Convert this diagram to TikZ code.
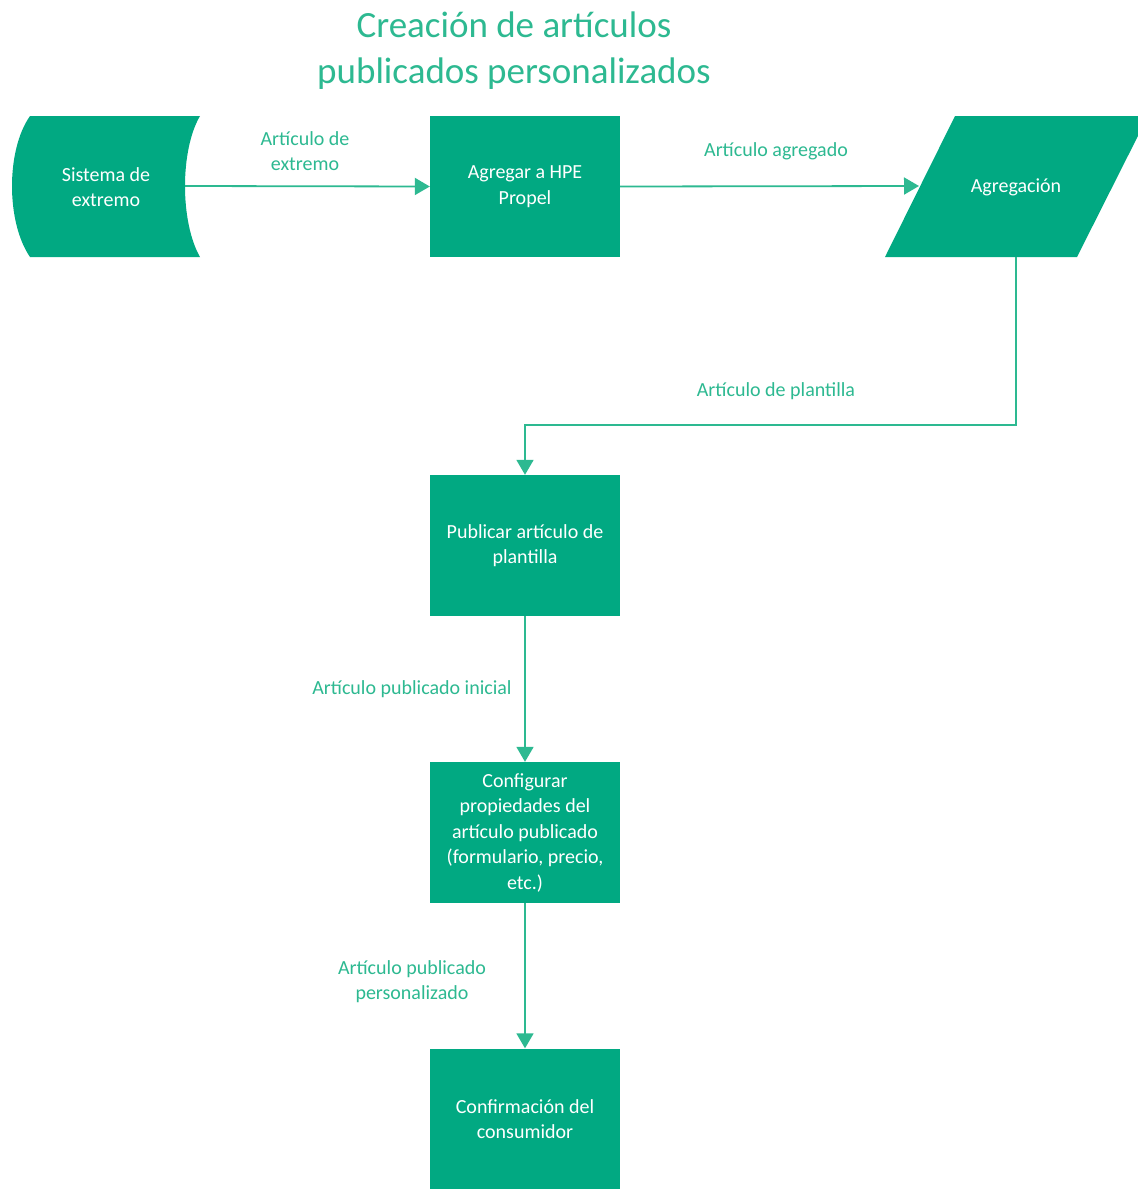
\documentclass[tikz,border=0pt]{standalone}
\usepackage{fontspec}
\setmainfont{Carlito}
\usetikzlibrary{arrows.meta}
\definecolor{hpegreen}{HTML}{01A982}
\definecolor{linegreen}{HTML}{2DB991}
\definecolor{labelgreen}{HTML}{2DB991}
\tikzset{
  box/.style={fill=hpegreen, draw=none, minimum width=190pt, minimum height=141pt, inner sep=0pt,
    text=white, align=center, font=\fontsize{20}{25.5}\selectfont},
  shapetext/.style={text=white, align=center, font=\fontsize{20}{25}\selectfont, inner sep=0pt},
  conn/.style={draw=linegreen, line width=1.8pt, -{Triangle[length=15pt,width=17pt]}},
  lbl/.style={text=labelgreen, align=center, font=\fontsize{20}{25}\selectfont, inner sep=0pt},
}
\begin{document}
\begin{tikzpicture}[x=1pt,y=-1pt]
\clip (0,0) rectangle (1138,1189);
\fill[white] (0,0) rectangle (1138,1189);
% title
\node[text=labelgreen, align=center, font=\fontsize{37}{46}\selectfont] (title) at (514,50.5) {Creación de artículos\\publicados personalizados};
% stored data shape
\fill[hpegreen] (30,116) -- (200,116) .. controls (180,150) and (180,222) .. (200,257) -- (30,257) .. controls (6,222) and (6,150) .. (30,116) -- cycle;
\node[shapetext] (sys) at (106,187.5) {Sistema de\\extremo};
\coordinate (sys-e) at (185,186);
% boxes
\node[box] (agr) at (525,186.5) {Agregar a HPE\\Propel};
\node[box] (pub) at (525,545.5) {Publicar artículo de\\plantilla};
\node[box] (cfg) at (525,832.5) {Configurar\\propiedades del\\artículo publicado\\(formulario, precio,\\etc.)};
\node[box] (conf) at (525,1119) {Confirmación del\\consumidor};
% parallelogram
\fill[hpegreen] (955,116) -- (1148,116) -- (1077,257) -- (885,257) -- cycle;
\node[shapetext] (agg) at (1016,187.5) {Agregación};
\coordinate (agg-w) at (919,186);
\coordinate (agg-s) at (1016,257);
\coordinate (bend1) at (1016,425);
\coordinate (bend2) at (525,425);
% connectors
\draw[conn] (sys-e) -- (agr.west);
\draw[conn] (agr.east) -- (agg-w);
\draw[conn] (agg-s) -- (bend1) -- (bend2) -- (pub.north);
\draw[conn] (pub.south) -- (cfg.north);
\draw[conn] (cfg.south) -- (conf.north);
% labels
\node[lbl] (l1) at (305,151.5) {Artículo de\\extremo};
\node[lbl] (l2) at (776,151.5) {Artículo agregado};
\node[lbl] (l3) at (776,391.5) {Artículo de plantilla};
\node[lbl] (l4) at (412,689.5) {Artículo publicado inicial};
\node[lbl] (l5) at (412,982) {Artículo publicado\\personalizado};
\end{tikzpicture}
\end{document}
